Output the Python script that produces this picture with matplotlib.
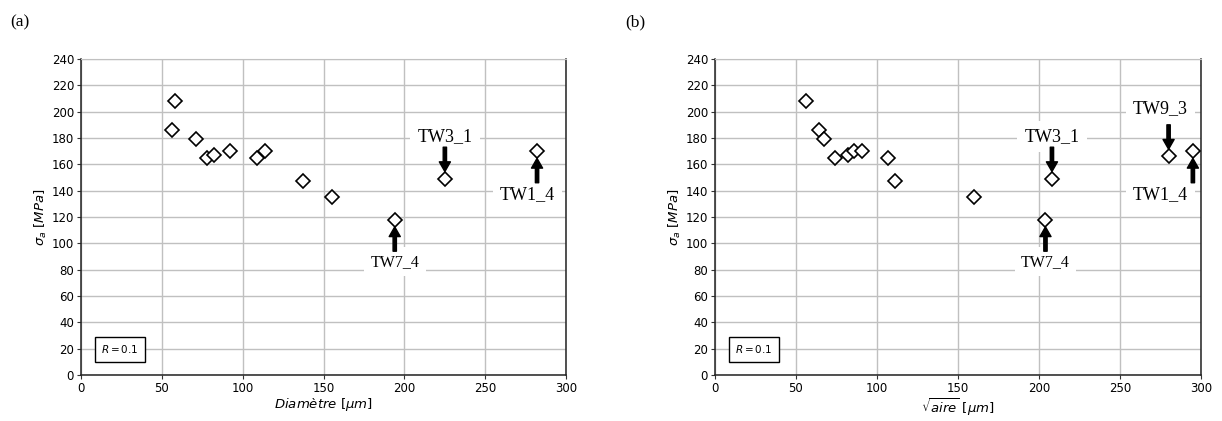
import numpy as np
import matplotlib
matplotlib.use("Agg")
import matplotlib.pyplot as plt

# (a) fatigue limit vs defect diameter
diam = [56, 58, 71, 78, 82, 92, 109, 114, 137, 155, 194, 225, 282]
sig_a = [186, 208, 179, 165, 167, 170, 165, 170, 147, 135, 118, 149, 170]

# (b) fatigue limit vs sqrt(area)
sqrt_aire = [56, 64, 67, 74, 82, 86, 91, 107, 111, 160, 204, 208, 280, 295]
sig_b = [208, 186, 179, 165, 167, 170, 170, 165, 147, 135, 118, 149, 166, 170]

# labelled specimens: (name, x, y, label x, label y, fontsize)
labels_a = [("TW3_1", 225, 149, 225, 181, 13),
            ("TW1_4", 282, 170, 276, 137, 13),
            ("TW7_4", 194, 118, 194, 86, 11.5)]
labels_b = [("TW3_1", 208, 149, 208, 181, 13),
            ("TW7_4", 204, 118, 204, 86, 11.5),
            ("TW9_3", 280, 166, 275, 202, 13),
            ("TW1_4", 295, 170, 275, 137, 13)]

SERIF = "Liberation Serif"


def draw_panel(ax, x, y, labels, xlabel):
    ax.plot(x, y, ls="none", marker="D", ms=7.5, mfc="white", mec="black", mew=1.2, zorder=4)
    ax.set_xlim(0, 300)
    ax.set_ylim(0, 240)
    ax.set_xticks(np.arange(0, 301, 50))
    ax.set_yticks(np.arange(0, 241, 20))
    ax.grid(True, color="#c0c0c0", lw=1)
    ax.set_axisbelow(True)
    ax.tick_params(labelsize=8.5, length=3, color="#333333", pad=2)
    for s in ["left", "bottom", "right"]:
        ax.spines[s].set_color("#222222")
        ax.spines[s].set_linewidth(1.1)
    ax.spines["top"].set_color("#c0c0c0")
    ax.set_xlabel(xlabel, fontsize=9.5, labelpad=1)
    ax.set_ylabel(r"$\sigma_a$ [$MPa$]", fontsize=9.5, labelpad=2)

    ax.text(24, 19.5, r"$R = 0.1$", fontsize=7.5, ha="center", va="center",
            bbox=dict(boxstyle="square,pad=0.6", fc="white", ec="black", lw=1), zorder=5)

    for name, px, py, lx, ly, fs in labels:
        ax.text(lx, ly, name, family=SERIF, fontsize=fs, ha="center", va="center", zorder=5,
                bbox=dict(boxstyle="square,pad=0.4", fc="white", ec="none"))
        if ly > py:
            tip, tail = py + 5.5, py + 24
        else:
            tip, tail = py - 5.5, py - 24
        ax.annotate("", xy=(px, tip), xytext=(px, tail), zorder=6,
                    arrowprops=dict(facecolor="black", edgecolor="black", width=2.4,
                                    headwidth=8, headlength=7, shrink=0))


fig = plt.figure(figsize=(12.22, 4.21), dpi=100)
ax1 = fig.add_axes([0.0663, 0.1093, 0.397, 0.7506])
ax2 = fig.add_axes([0.5851, 0.1093, 0.3977, 0.7506])

draw_panel(ax1, diam, sig_a, labels_a, r"$Diamètre$ [$\mu m$]")
draw_panel(ax2, sqrt_aire, sig_b, labels_b, r"$\sqrt{aire}$ [$\mu m$]")

fig.text(0.008, 0.965, "(a)", family=SERIF, fontsize=12.5, va="top")
fig.text(0.512, 0.965, "(b)", family=SERIF, fontsize=12.5, va="top")

fig.savefig("out.png", dpi=100)
